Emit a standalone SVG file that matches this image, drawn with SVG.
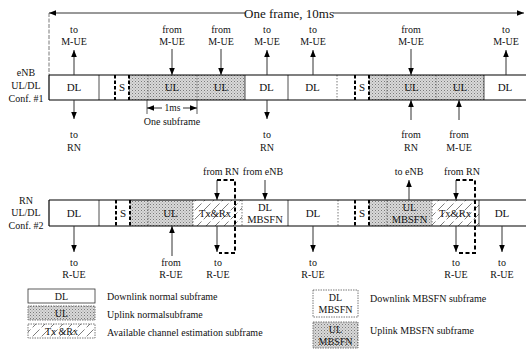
<svg xmlns="http://www.w3.org/2000/svg" width="526" height="349" viewBox="0 0 526 349">
<style>
text{font-family:"Liberation Serif","Times New Roman",serif;fill:#111}
.lb{font-size:10px;text-anchor:middle}
.bx{font-size:11px;text-anchor:middle}
.lg{font-size:10px}
.wh{fill:#fff;stroke:none}
.sh{fill:url(#dots);stroke:none}
.hx{fill:url(#hatch);stroke:none}
.sep{stroke:#222;stroke-width:0.8}
.sepd{stroke:#555;stroke-width:0.8;stroke-dasharray:1.5,1.5}
.dsh{stroke:#000;stroke-width:2;stroke-dasharray:3.5,2}
.edge{stroke:#000;stroke-width:1.2}
.ar{stroke:#333;stroke-width:1;fill:none;marker-end:url(#ah)}
.br{stroke:#000;stroke-width:2;stroke-dasharray:4,2.5;fill:none}
</style>
<defs>
<pattern id="dots" width="3" height="3" patternUnits="userSpaceOnUse"><rect width="3" height="3" fill="#d9d9d9"/><rect width="1" height="1" fill="#7a7a7a"/><rect x="1.5" y="1.5" width="1" height="1" fill="#9a9a9a"/></pattern>
<pattern id="hatch" width="9" height="9" patternUnits="userSpaceOnUse"><rect width="9" height="9" fill="#fff"/><path d="M0 9 L9 0" stroke="#444" stroke-width="0.7" stroke-dasharray="5,3"/></pattern>
<marker id="ah" viewBox="0 0 10 10" refX="10" refY="5" markerWidth="7" markerHeight="7" markerUnits="userSpaceOnUse" orient="auto-start-reverse"><path d="M0,1 L10,5 L0,9 z" fill="#000"/></marker>
</defs>

<!-- title -->
<g id="frame-span">
<line x1="245" y1="13" x2="49" y2="13" class="ar"/>
<line x1="333" y1="13" x2="524" y2="13" class="ar"/>
<text x="289" y="18" style="font-size:13px;text-anchor:middle">One frame, 10ms</text>
<line x1="49" y1="13" x2="49" y2="75" stroke="#555" stroke-width="0.8" stroke-dasharray="4,1.5"/>
</g>

<!-- row labels -->
<g id="row1-label"><text class="lb" x="26" y="76">eNB</text><text class="lb" x="26" y="89">UL/DL</text><text class="lb" x="26" y="102">Conf. #1</text></g>
<g id="row2-label"><text class="lb" x="26" y="204">RN</text><text class="lb" x="26" y="216">UL/DL</text><text class="lb" x="26" y="229">Conf. #2</text></g>

<!-- Row 1 -->
<g id="r1-dl1"><rect class="wh" x="49" y="75" width="50" height="25"/><text class="bx" x="74" y="91">DL</text></g>
<g id="r1-sp1"><rect class="wh" x="99" y="75" width="30" height="25"/><rect class="sh" x="129" y="75" width="19" height="25"/><line class="sep" x1="99" y1="75" x2="99" y2="100"/><line class="dsh" x1="115" y1="75" x2="115" y2="100"/><line class="dsh" x1="129" y1="75" x2="129" y2="100"/><text class="bx" x="122" y="91">S</text></g>
<g id="r1-ul1"><rect class="sh" x="148" y="75" width="49" height="25"/><line class="sepd" x1="148" y1="75" x2="148" y2="100"/><text class="bx" x="172" y="91">UL</text></g>
<g id="r1-ul2"><rect class="sh" x="197" y="75" width="48" height="25"/><line class="sepd" x1="197" y1="75" x2="197" y2="100"/><text class="bx" x="221" y="91">UL</text></g>
<g id="r1-dl2"><rect class="wh" x="245" y="75" width="43" height="25"/><line class="sep" x1="245" y1="75" x2="245" y2="100"/><text class="bx" x="266.5" y="91">DL</text></g>
<g id="r1-dl3"><rect class="wh" x="288" y="75" width="49" height="25"/><line class="sep" x1="288" y1="75" x2="288" y2="100"/><text class="bx" x="312.5" y="91">DL</text></g>
<g id="r1-sp2"><rect class="wh" x="337" y="75" width="32" height="25"/><rect class="sh" x="369" y="75" width="18" height="25"/><line class="sepd" x1="337" y1="75" x2="337" y2="100"/><line class="dsh" x1="355" y1="75" x2="355" y2="100"/><line class="dsh" x1="369" y1="75" x2="369" y2="100"/><text class="bx" x="362" y="91">S</text></g>
<g id="r1-ul3"><rect class="sh" x="387" y="75" width="49" height="25"/><line class="sepd" x1="387" y1="75" x2="387" y2="100"/><text class="bx" x="411.5" y="91">UL</text></g>
<g id="r1-ul4"><rect class="sh" x="436" y="75" width="48" height="25"/><line class="sepd" x1="436" y1="75" x2="436" y2="100"/><text class="bx" x="460" y="91">UL</text></g>
<g id="r1-dl4"><rect class="wh" x="484" y="75" width="42" height="25"/><line class="sep" x1="484" y1="75" x2="484" y2="100"/><text class="bx" x="505" y="91">DL</text></g>
<g id="r1-edges"><line class="edge" x1="49" y1="75" x2="526" y2="75"/><line class="edge" x1="49" y1="100" x2="526" y2="100"/><line class="edge" x1="49" y1="75" x2="49" y2="100"/></g>

<!-- Row 2 -->
<g id="r2-dl1"><rect class="wh" x="49" y="200" width="50" height="26"/><text class="bx" x="74" y="217">DL</text></g>
<g id="r2-sp1"><rect class="wh" x="99" y="200" width="31" height="26"/><rect class="sh" x="130" y="200" width="18" height="26"/><line class="sep" x1="99" y1="200" x2="99" y2="226"/><line class="dsh" x1="116" y1="200" x2="116" y2="226"/><line class="dsh" x1="130" y1="200" x2="130" y2="226"/><text class="bx" x="123" y="217">S</text></g>
<g id="r2-ul1"><rect class="sh" x="148" y="200" width="45" height="26"/><line class="sepd" x1="148" y1="200" x2="148" y2="226"/><text class="bx" x="170.5" y="217">UL</text></g>
<g id="r2-tx1"><rect class="hx" x="193" y="200" width="49" height="26"/><line class="sepd" x1="193" y1="200" x2="193" y2="226"/><text class="bx" x="215" y="217" style="font-size:10.5px">Tx&amp;Rx</text></g>
<g id="r2-dlm"><rect class="wh" x="242" y="200" width="46" height="26"/><line class="sepd" x1="242" y1="200" x2="242" y2="226"/><text class="bx" x="265" y="211" style="font-size:10.5px">DL</text><text class="bx" x="265" y="223" style="font-size:10.5px">MBSFN</text></g>
<g id="r2-dl2"><rect class="wh" x="288" y="200" width="50" height="26"/><line class="sep" x1="288" y1="200" x2="288" y2="226"/><text class="bx" x="313" y="217">DL</text></g>
<g id="r2-sp2"><rect class="wh" x="338" y="200" width="31" height="26"/><rect class="sh" x="369" y="200" width="18" height="26"/><line class="sepd" x1="338" y1="200" x2="338" y2="226"/><line class="dsh" x1="355" y1="200" x2="355" y2="226"/><line class="dsh" x1="369" y1="200" x2="369" y2="226"/><text class="bx" x="362" y="217">S</text></g>
<g id="r2-ulm"><rect class="sh" x="387" y="200" width="45" height="26"/><line class="sepd" x1="387" y1="200" x2="387" y2="226"/><text class="bx" x="409.5" y="211" style="font-size:10.5px">UL</text><text class="bx" x="409.5" y="223" style="font-size:10.5px">MBSFN</text></g>
<g id="r2-tx2"><rect class="hx" x="432" y="200" width="47" height="26"/><line class="sepd" x1="432" y1="200" x2="432" y2="226"/><text class="bx" x="455" y="217" style="font-size:10.5px">Tx&amp;Rx</text></g>
<g id="r2-dl3"><rect class="wh" x="479" y="200" width="47" height="26"/><line class="sep" x1="479" y1="200" x2="479" y2="226"/><text class="bx" x="502" y="217">DL</text></g>
<g id="r2-edges"><line class="edge" x1="49" y1="200" x2="526" y2="200"/><line class="edge" x1="49" y1="226" x2="526" y2="226"/><line class="edge" x1="49" y1="200" x2="49" y2="226"/></g>

<!-- subframe dimension -->
<g id="dim-1ms">
<line x1="147" y1="100" x2="147" y2="114" stroke="#333" stroke-width="0.8"/>
<line x1="197" y1="100" x2="197" y2="114" stroke="#333" stroke-width="0.8"/>
<line class="ar" x1="162" y1="108" x2="147" y2="108"/>
<line class="ar" x1="183" y1="108" x2="197" y2="108"/>
<text x="172.5" y="111" style="font-size:9.5px;text-anchor:middle">1ms</text>
<text class="lb" x="172" y="125">One subframe</text>
</g>

<!-- connectors -->
<g id="connectors">
<line class="ar" x1="74" y1="75" x2="74" y2="50"/>
<line class="ar" x1="172" y1="49" x2="172" y2="75"/>
<line class="ar" x1="221" y1="49" x2="221" y2="75"/>
<line class="ar" x1="267" y1="75" x2="267" y2="50"/>
<line class="ar" x1="313" y1="75" x2="313" y2="50"/>
<line class="ar" x1="411" y1="49" x2="411" y2="75"/>
<line class="ar" x1="506" y1="75" x2="506" y2="50"/>
<line class="ar" x1="74" y1="100" x2="74" y2="119"/>
<line class="ar" x1="267" y1="100" x2="267" y2="119"/>
<line class="ar" x1="411" y1="120" x2="411" y2="100"/>
<line class="ar" x1="459" y1="120" x2="459" y2="100"/>
<line class="ar" x1="217" y1="180" x2="217" y2="200"/>
<line class="ar" x1="265" y1="180" x2="265" y2="200"/>
<line class="ar" x1="409" y1="200" x2="409" y2="180"/>
<line class="ar" x1="456" y1="180" x2="456" y2="200"/>
<line class="ar" x1="74" y1="226" x2="74" y2="252"/>
<line class="ar" x1="172" y1="256" x2="172" y2="226"/>
<line class="ar" x1="217" y1="226" x2="217" y2="252"/>
<line class="ar" x1="313" y1="226" x2="313" y2="252"/>
<line class="ar" x1="456" y1="226" x2="456" y2="252"/>
<line class="ar" x1="502" y1="226" x2="502" y2="252"/>
<path class="br" d="M217 180 H235 V253 H219"/>
<path class="br" d="M456 180 H475 V253 H458"/>
</g>

<!-- labels -->
<g id="labels">
<text class="lb" x="74" y="33">to</text><text class="lb" x="74" y="45">M-UE</text>
<text class="lb" x="172" y="33">from</text><text class="lb" x="172" y="45">M-UE</text>
<text class="lb" x="221" y="33">from</text><text class="lb" x="221" y="45">M-UE</text>
<text class="lb" x="267" y="33">to</text><text class="lb" x="267" y="45">M-UE</text>
<text class="lb" x="313" y="33">to</text><text class="lb" x="313" y="45">M-UE</text>
<text class="lb" x="411" y="33">from</text><text class="lb" x="411" y="45">M-UE</text>
<text class="lb" x="506" y="33">to</text><text class="lb" x="506" y="45">M-UE</text>
<text class="lb" x="74" y="138">to</text><text class="lb" x="74" y="151">RN</text>
<text class="lb" x="267" y="138">to</text><text class="lb" x="267" y="151">RN</text>
<text class="lb" x="411" y="138">from</text><text class="lb" x="411" y="151">RN</text>
<text class="lb" x="459" y="138">from</text><text class="lb" x="459" y="151">M-UE</text>
<text class="lb" x="221" y="175">from  RN</text>
<text class="lb" x="263" y="175">from eNB</text>
<text class="lb" x="409" y="175">to eNB</text>
<text class="lb" x="462" y="175">from  RN</text>
<text class="lb" x="74" y="266">to</text><text class="lb" x="74" y="278">R-UE</text>
<text class="lb" x="171" y="266">from</text><text class="lb" x="171" y="278">R-UE</text>
<text class="lb" x="218" y="266">to</text><text class="lb" x="218" y="278">R-UE</text>
<text class="lb" x="313" y="266">to</text><text class="lb" x="313" y="278">R-UE</text>
<text class="lb" x="456" y="266">to</text><text class="lb" x="456" y="278">R-UE</text>
<text class="lb" x="502" y="266">to</text><text class="lb" x="502" y="278">R-UE</text>
</g>

<!-- legend -->
<g id="legend-dl"><rect x="28" y="289" width="67" height="14" fill="#fff" stroke="#333" stroke-width="0.8"/><text class="bx" x="61.5" y="300" style="font-size:10px">DL</text><text class="lg" x="107" y="300">Downlink normal subframe</text></g>
<g id="legend-ul"><rect x="28" y="306" width="67" height="14" fill="url(#dots)" stroke="#555" stroke-width="0.8" stroke-dasharray="1.5,1"/><text class="bx" x="61.5" y="317" style="font-size:10px">UL</text><text class="lg" x="107" y="318">Uplink normalsubframe</text></g>
<g id="legend-tx"><rect x="28" y="324" width="67" height="14" fill="url(#hatch)" stroke="#555" stroke-width="0.8" stroke-dasharray="1.5,1"/><text class="bx" x="61.5" y="335" style="font-size:10px">Tx &amp;Rx</text><text class="lg" x="107" y="336">Available channel estimation subframe</text></g>
<g id="legend-dlm"><rect x="313" y="290" width="45" height="27" fill="#fff" stroke="#555" stroke-width="0.8" stroke-dasharray="1.5,1"/><text class="bx" x="335.5" y="301" style="font-size:10px">DL</text><text class="bx" x="335.5" y="313" style="font-size:10px">MBSFN</text><text class="lg" x="370" y="302">Downlink MBSFN subframe</text></g>
<g id="legend-ulm"><rect x="313" y="322" width="45" height="26" fill="url(#dots)" stroke="#555" stroke-width="0.8" stroke-dasharray="1.5,1"/><text class="bx" x="335.5" y="333" style="font-size:10px">UL</text><text class="bx" x="335.5" y="345" style="font-size:10px">MBSFN</text><text class="lg" x="370" y="334">Uplink MBSFN subframe</text></g>
</svg>
